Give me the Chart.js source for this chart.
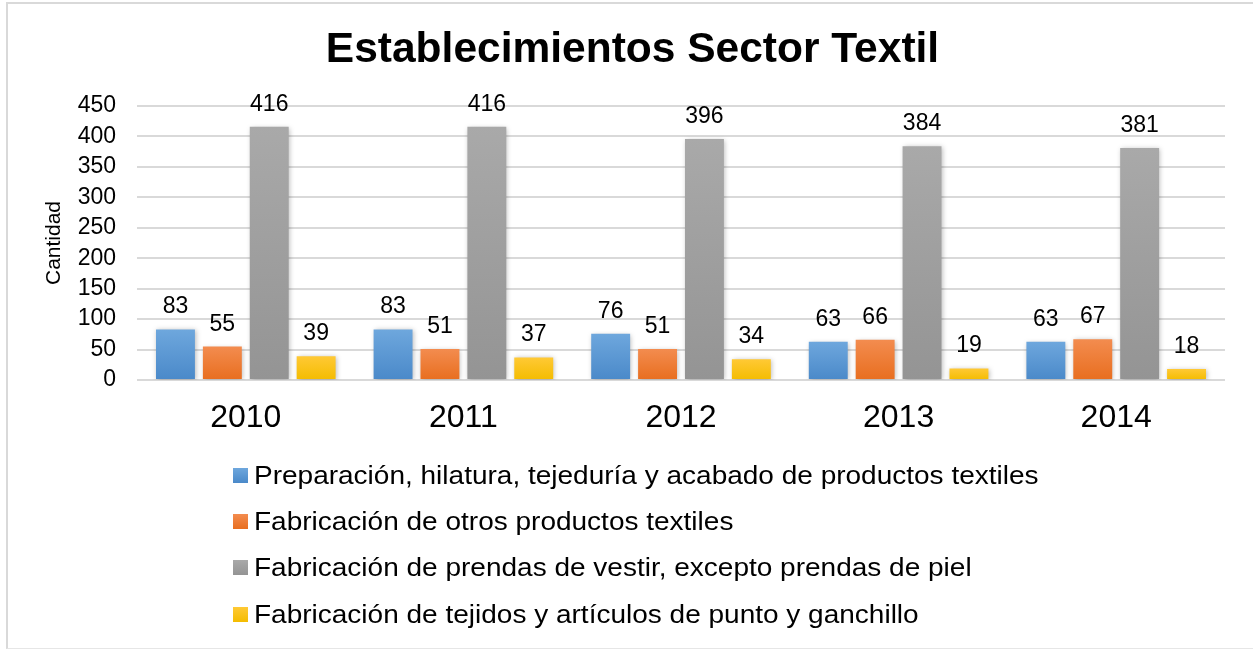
<!DOCTYPE html>
<html>
<head>
<meta charset="utf-8">
<script src="https://cdn.jsdelivr.net/npm/chart.js@4.4.1/dist/chart.umd.min.js"></script>
<style>
  html, body { margin: 0; padding: 0; background: #fff; }
  #wrap { position: relative; width: 1253px; height: 651px; overflow: hidden; font-family: "Liberation Sans", Arial, sans-serif; }
  #frame { position: absolute; left: 6px; top: 2px; width: 1260px; height: 647px; border-left: 2px solid #d9d9d9; border-top: 2px solid #d9d9d9; border-bottom: 1px solid #e6e6e6; box-sizing: border-box; pointer-events: none; }
  #c { position: absolute; left: 0; top: 0; }
  #title { position: absolute; left: 0; top: 27px; width: 1265px; text-align: center; font-size: 42.5px; line-height: 42px; font-weight: bold; color: #000; white-space: nowrap; }
  #legend { position: absolute; left: 233px; top: 452px; }
  .item { display: flex; align-items: center; height: 46.3px; color: #000; white-space: nowrap; }
  .box { width: 15px; height: 15px; margin-right: 6px; flex: none; }
  .txt { font-size: 26px; display: inline-block; transform: scaleX(1.077); transform-origin: left center; }
</style>
</head>
<body>
<div id="wrap">
  <canvas id="c" width="1253" height="651"></canvas>
  <div id="frame"></div>
  <div id="title">Establecimientos Sector Textil</div>
  <div id="legend"></div>
</div>
<script>
const categories = ["2010", "2011", "2012", "2013", "2014"];
const seriesNames = [
  "Preparación, hilatura, tejeduría y acabado de productos textiles",
  "Fabricación de otros productos textiles",
  "Fabricación de prendas de vestir, excepto prendas de piel",
  "Fabricación de tejidos y artículos de punto y ganchillo"
];
const preparacion = [83, 83, 76, 63, 63];
const otrosTextiles = [55, 51, 51, 66, 67];
const prendasVestir = [416, 416, 396, 384, 381];
const tejidosPunto = [39, 37, 34, 19, 18];
const yTicks = [0, 50, 100, 150, 200, 250, 300, 350, 400, 450];

const colorsTop = ["#6ea7dd", "#f38c4f", "#a9a9a9", "#ffc935"];
const colorsBottom = ["#4a89c9", "#e86e1f", "#949494", "#f4bc00"];
const legendColors = ["#5b9bd5", "#ed7d31", "#a5a5a5", "#ffc000"];

const FONT = '"Liberation Sans", Arial, sans-serif';

function gradFill(i) {
  return function(ctx) {
    const chart = ctx.chart;
    const y = chart.scales && chart.scales.y;
    if (!chart.chartArea || !y || ctx.raw === undefined) return legendColors[i];
    const top = y.getPixelForValue(ctx.raw);
    const bottom = y.getPixelForValue(0);
    if (!isFinite(top) || !isFinite(bottom) || bottom - top < 1) return legendColors[i];
    const g = chart.ctx.createLinearGradient(0, top, 0, bottom);
    g.addColorStop(0, colorsTop[i]);
    g.addColorStop(1, colorsBottom[i]);
    return g;
  };
}

const allData = [preparacion, otrosTextiles, prendasVestir, tejidosPunto];
const datasets = allData.map((d, i) => ({
  label: seriesNames[i],
  data: d,
  backgroundColor: gradFill(i),
  borderWidth: 0,
  categoryPercentage: 0.862,
  barPercentage: 0.83
}));

const shadowPlugin = {
  id: 'shadow',
  beforeDatasetsDraw(chart) {
    const c = chart.ctx;
    c.save();
    c.shadowColor = 'rgba(0,0,0,0.28)';
    c.shadowBlur = 5;
    c.shadowOffsetX = 1;
    c.shadowOffsetY = 1;
  },
  afterDatasetsDraw(chart) {
    chart.ctx.restore();
    const c = chart.ctx;
    c.save();
    c.font = '23px ' + FONT;
    c.fillStyle = '#000';
    c.textAlign = 'center';
    c.textBaseline = 'alphabetic';
    chart.data.datasets.forEach((ds, di) => {
      const meta = chart.getDatasetMeta(di);
      meta.data.forEach((bar, idx) => {
        c.fillText(String(ds.data[idx]), bar.x, bar.y - 16);
      });
    });
    c.restore();
  }
};

new Chart(document.getElementById('c'), {
  type: 'bar',
  data: { labels: categories, datasets },
  options: {
    responsive: false,
    animation: false,
    devicePixelRatio: 1,
    layout: { padding: { left: 0, right: 28, top: 106, bottom: 211 } },
    plugins: {
      legend: { display: false },
      tooltip: { enabled: false },
      title: { display: false }
    },
    scales: {
      x: {
        grid: { display: false, drawTicks: false },
        border: { display: false },
        ticks: { color: '#000', font: { family: FONT, size: 32 }, padding: 19 },
        afterFit(s) { s.height = 60; }
      },
      y: {
        min: 0, max: 450,
        afterBuildTicks(s) { s.ticks = yTicks.map(v => ({ value: v })); },
        grid: { color: '#d9d9d9', lineWidth: 2, drawTicks: false },
        border: { display: false },
        ticks: { color: '#000', font: { family: FONT, size: 23, lineHeight: 1.0 }, padding: 21, autoSkip: false },
        title: {
          display: true, text: 'Cantidad', color: '#000',
          font: { family: FONT, size: 21, lineHeight: 1.2 },
          padding: { top: 42, bottom: 0 }
        },
        afterFit(s) { s.width = 137; }
      }
    }
  },
  plugins: [shadowPlugin]
});

const lg = document.getElementById('legend');
seriesNames.forEach((n, i) => {
  const it = document.createElement('div');
  it.className = 'item';
  const b = document.createElement('span');
  b.className = 'box';
  b.style.background = 'linear-gradient(' + colorsTop[i] + ',' + colorsBottom[i] + ')';
  const t = document.createElement('span');
  t.className = 'txt';
  t.textContent = n;
  it.appendChild(b); it.appendChild(t);
  lg.appendChild(it);
});
</script>
</body>
</html>
